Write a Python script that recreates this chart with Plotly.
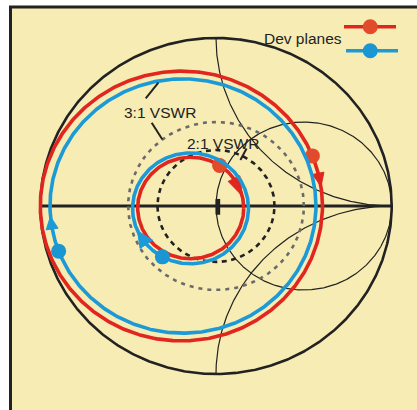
import numpy as np
import plotly.graph_objects as go

# ---- Smith chart grid -------------------------------------------------------
resistance_circles = [0.0, 1.0]
reactance_arcs = [1.0, -1.0]
vswr_levels = [2.0, 3.0]
vswr_labels = ["2:1 VSWR", "3:1 VSWR"]

# ---- impedance loops seen at the two device planes --------------------------
loop_series = ["red", "blue", "red", "blue"]
loop_center_re = [-0.197, -0.188, -0.144, -0.145]
loop_center_im = [0.0, 0.0, -0.012, -0.014]
loop_radius = [0.803, 0.757, 0.302, 0.330]
plane_angle_deg = [21.8, 200.8, 57.0, 241.0]   # device-plane marker position
arrow_tip_deg = [8.3, 184.8, 14.0, 204.0]      # direction-of-travel arrow tip

legend_title = "Dev planes"

# ---- styling ----------------------------------------------------------------
W, H = 417, 410
SX, SY = 175.7, 168.0          # pixels per unit of reflection coefficient
CX, CY = 216.0, 206.0          # pixel position of the chart centre
INK = "#222222"
BG = "#F7ECB4"
COLORS = {"red": "#E1261F", "blue": "#1B9AD7"}
DOT_COLORS = {"red": "#E14A2B", "blue": "#1A96D3"}
HEAD_LEN = [13.5, 12.5, 19.0, 16.0]
HEAD_W = [11.5, 12.0, 13.0, 15.0]
FONT = "Liberation Sans, Arial, sans-serif"

fig = go.Figure()


def add_line(x, y, color=INK, width=1.2, dash="solid"):
    fig.add_trace(go.Scatter(x=x, y=y, mode="lines", hoverinfo="skip",
                             line=dict(color=color, width=width, dash=dash),
                             showlegend=False))


t = np.linspace(0, 2 * np.pi, 721)

# constant-resistance circles (r = 0 is the outer boundary)
for r in resistance_circles:
    c, rad = r / (1 + r), 1 / (1 + r)
    add_line(c + rad * np.cos(t), rad * np.sin(t),
             width=2.6 if r == 0 else 1.2)

# constant-reactance arcs, clipped to the unit circle
for xr in reactance_arcs:
    cx, cy, rad = 1.0, 1.0 / xr, abs(1.0 / xr)
    gx, gy = cx + rad * np.cos(t), cy + rad * np.sin(t)
    inside = gx ** 2 + gy ** 2 <= 1.0 + 1e-9
    gx, gy = np.where(inside, gx, np.nan), np.where(inside, gy, np.nan)
    add_line(gx, gy, width=1.2)

# real axis and centre mark
add_line([-1, 1], [0, 0], width=3)
add_line([0.011, 0.011], [-0.052, 0.042], width=4.5)

# VSWR circles
for s in vswr_levels:
    g = (s - 1) / (s + 1)
    is_two = s == 2.0
    add_line(g * np.cos(t), g * np.sin(t),
             color=INK if is_two else "#6A6A6A", width=2.6,
             dash="5px,4.5px" if is_two else "4px,5px")


def loop_point(i, deg):
    a = np.deg2rad(deg)
    px = (loop_center_re[i] + loop_radius[i] * np.cos(a)) * SX
    py = (loop_center_im[i] + loop_radius[i] * np.sin(a)) * SY
    return np.array([px, py])


# loops, arrowheads and device-plane markers
for i, name in enumerate(loop_series):
    col = COLORS[name]
    add_line(loop_center_re[i] + loop_radius[i] * np.cos(t),
             loop_center_im[i] + loop_radius[i] * np.sin(t),
             color=col, width=3.6)

    tip = loop_point(i, arrow_tip_deg[i])
    r_px = loop_radius[i] * (SX + SY) / 2
    base_deg = arrow_tip_deg[i] + np.rad2deg(HEAD_LEN[i] / r_px)
    base = loop_point(i, base_deg)
    axis = tip - base
    axis /= np.linalg.norm(axis)
    base = tip - axis * HEAD_LEN[i]
    perp = np.array([-axis[1], axis[0]]) * HEAD_W[i] / 2
    tri = np.array([tip, base + perp, base - perp, tip])
    fig.add_trace(go.Scatter(x=tri[:, 0] / SX, y=tri[:, 1] / SY, mode="lines",
                             fill="toself", fillcolor=col,
                             line=dict(color=col, width=1),
                             hoverinfo="skip", showlegend=False))

    dot = loop_point(i, plane_angle_deg[i])
    fig.add_trace(go.Scatter(x=[dot[0] / SX], y=[dot[1] / SY], mode="markers",
                             marker=dict(color=DOT_COLORS[name], size=15,
                                         line=dict(width=0)),
                             hoverinfo="skip", showlegend=False))

# key for the two device planes
for name, y, x0, x1 in [("red", 1.067, 0.7285, 1.0245),
                        ("blue", 0.924, 0.740, 1.036)]:
    add_line([x0, x1], [y, y], color=COLORS[name], width=3.4)
    fig.add_trace(go.Scatter(x=[0.878], y=[y], mode="markers",
                             marker=dict(color=DOT_COLORS[name], size=15),
                             hoverinfo="skip", showlegend=False))

annotations = [
    dict(x=0.727, y=1.0, text=legend_title, xanchor="right", yanchor="middle"),
    dict(x=0.037, y=0.375, text=vswr_labels[0], xanchor="center",
         yanchor="middle"),
    dict(x=-0.319, y=0.554, text=vswr_labels[1], xanchor="center",
         yanchor="middle"),
]
for a in annotations:
    a.update(xref="x", yref="y", showarrow=False,
             font=dict(family=FONT, size=15.5, color=INK))

# leader lines from the labels
for (x0, y0), (x1, y1) in [((-0.400, 0.641), (-0.328, 0.734)),
                           ((-0.366, 0.496), (-0.306, 0.397)),
                           ((0.174, 0.342), (0.139, 0.274))]:
    add_line([x0, x1], [y0, y1], width=2)

fig.update_layout(
    width=W, height=H,
    margin=dict(l=0, r=0, t=0, b=0),
    paper_bgcolor="white", plot_bgcolor="rgba(0,0,0,0)",
    showlegend=False,
    annotations=annotations,
    shapes=[dict(type="rect", xref="paper", yref="paper", layer="below",
                 x0=10.5 / W, x1=1.2, y0=-0.2, y1=1 - 7.0 / H,
                 fillcolor=BG, line=dict(color=INK, width=3))],
    xaxis=dict(range=[-CX / SX, (W - CX) / SX], visible=False,
               fixedrange=True),
    yaxis=dict(range=[-(H - CY) / SY, CY / SY], visible=False,
               fixedrange=True),
)

fig.write_html("out.html")
